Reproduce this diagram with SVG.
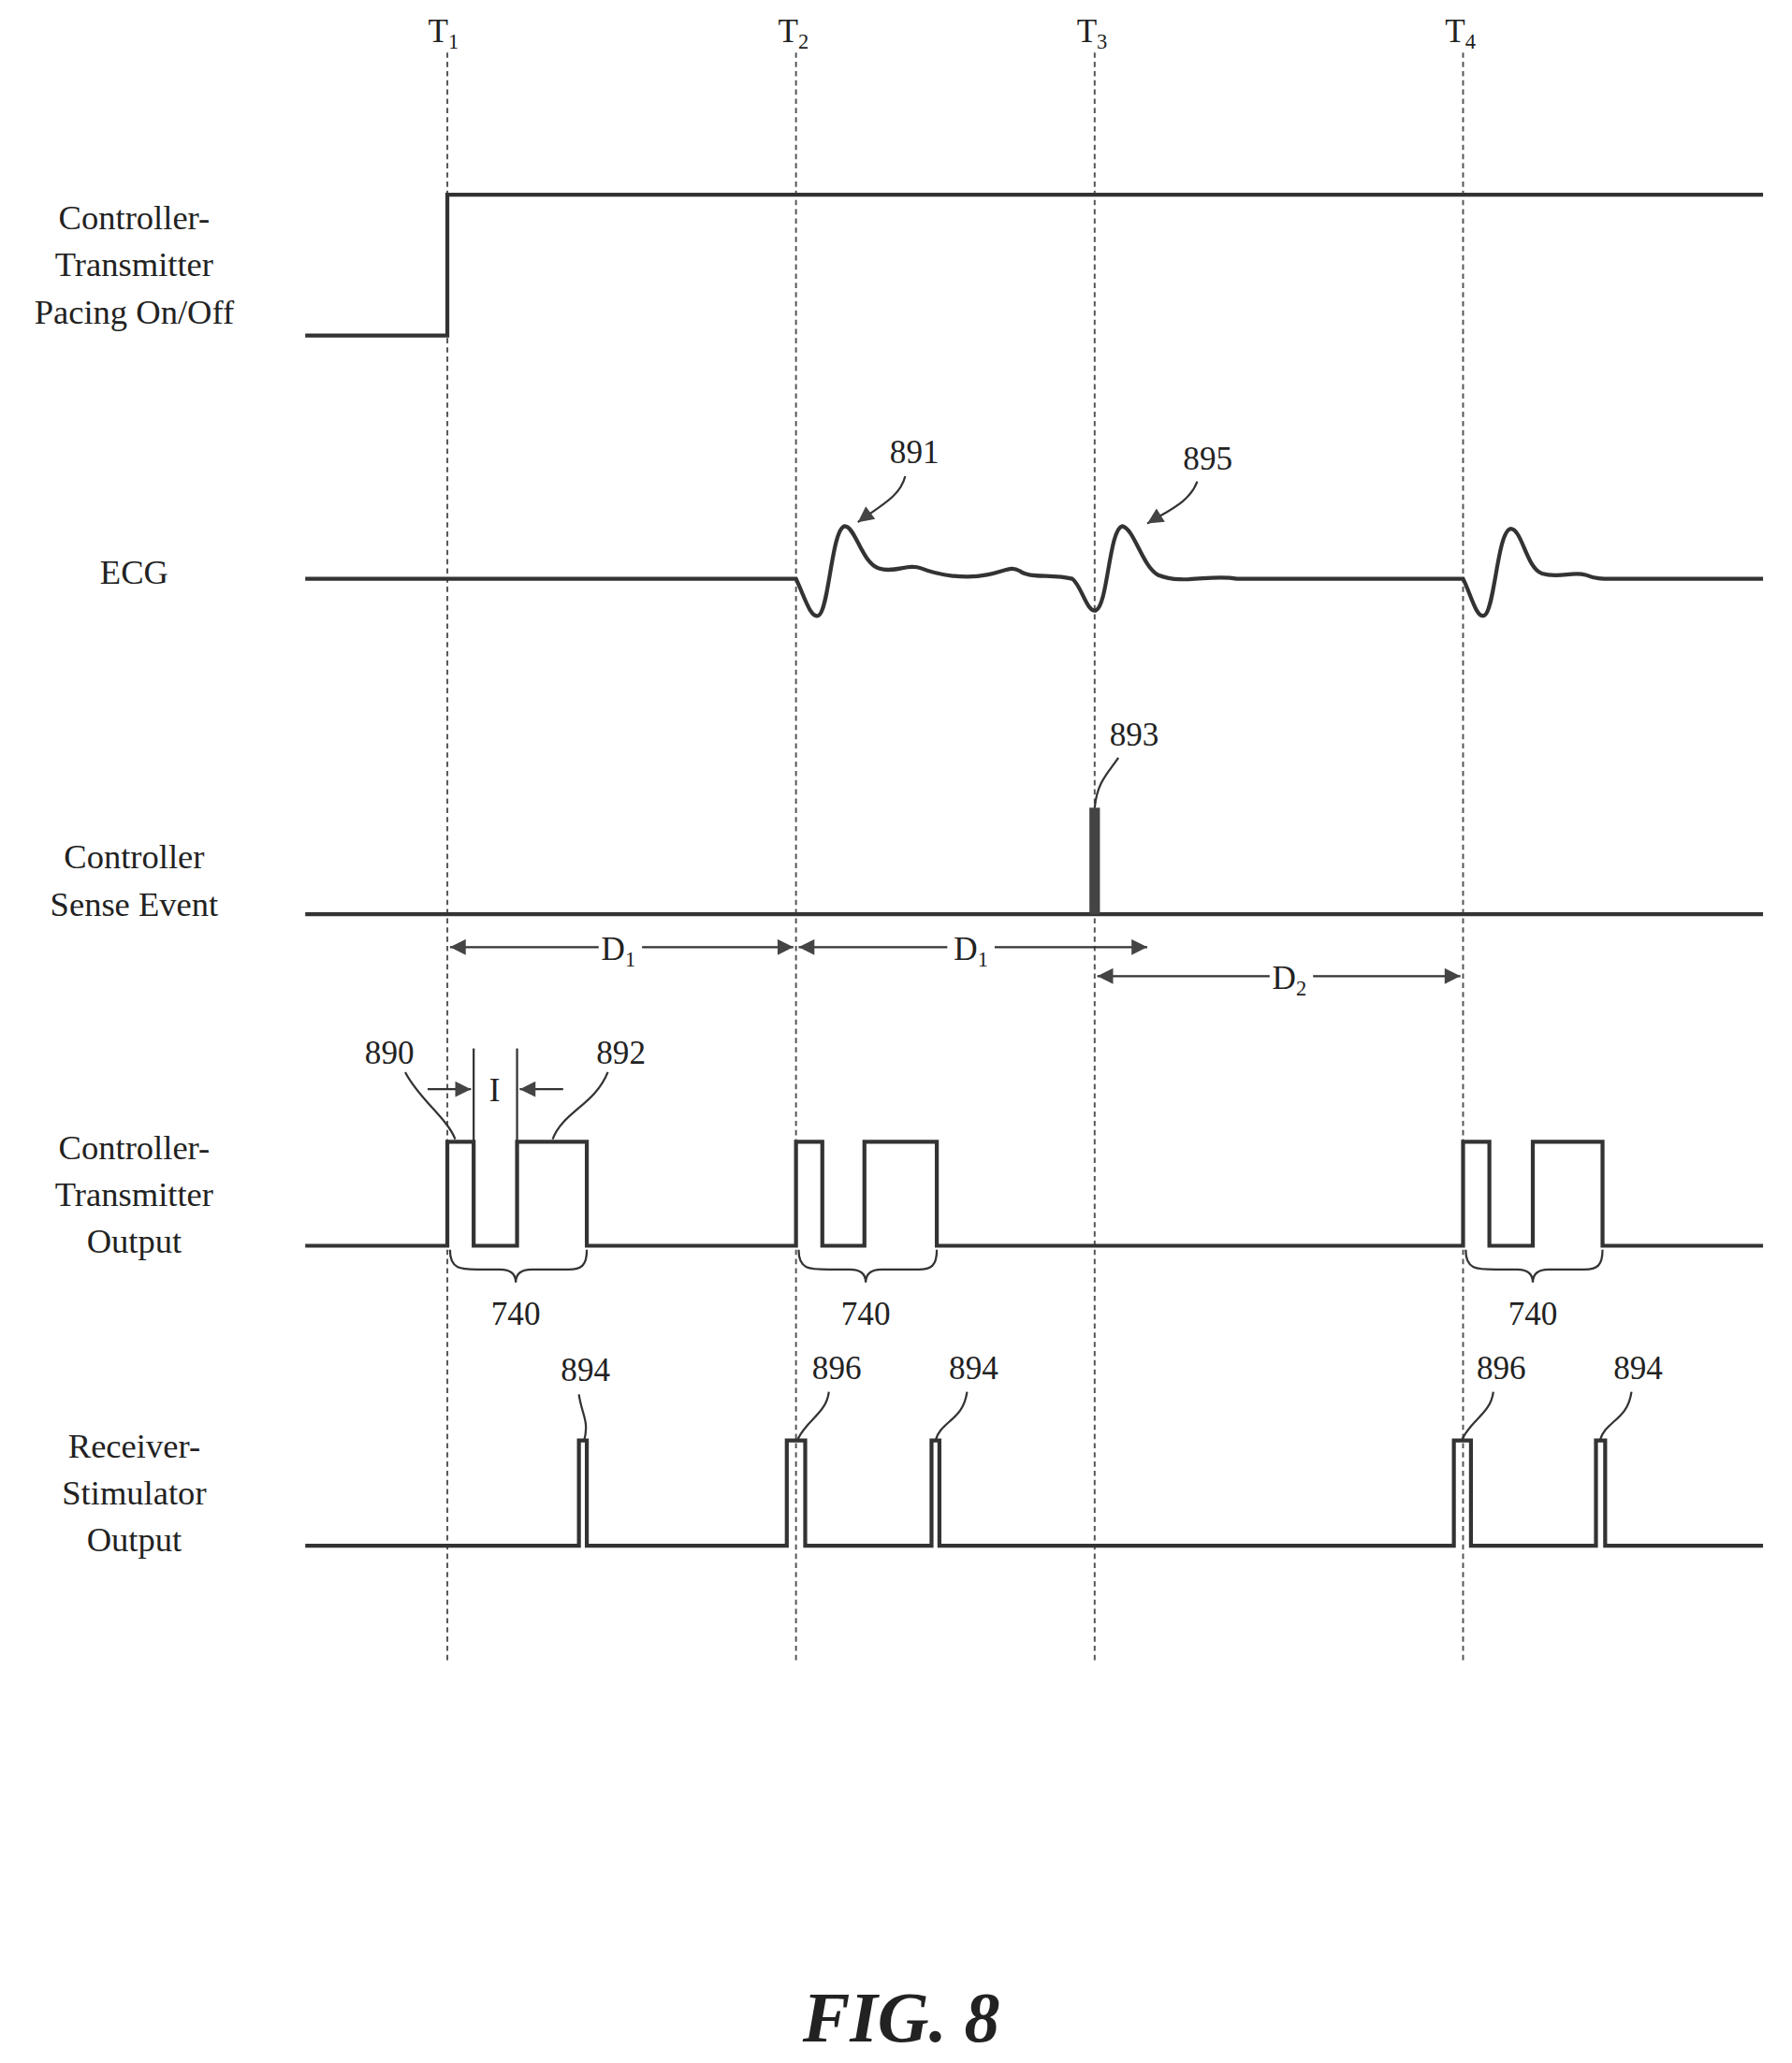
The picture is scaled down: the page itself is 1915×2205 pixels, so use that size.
<svg xmlns="http://www.w3.org/2000/svg" width="1915" height="2205" viewBox="0 0 1915 2205">
<defs>
<style>
.sig{fill:none;stroke:#333;stroke-width:3}
.thin{fill:none;stroke:#333;stroke-width:1.6}
.guide{fill:none;stroke:#555;stroke-width:1.4;stroke-dasharray:4 3}
.lbl{font-family:"Liberation Serif",serif;font-size:26px;fill:#222;text-anchor:middle}
.num{font-family:"Liberation Serif",serif;font-size:25px;fill:#222;text-anchor:middle}
.sub{font-size:16px}
</style>
<marker id="ah" viewBox="0 0 10 10" refX="10" refY="5" markerWidth="14" markerHeight="12" markerUnits="userSpaceOnUse" orient="auto-start-reverse"><path d="M0,0 L10,5 L0,10 z" fill="#444"/></marker>
</defs>
<rect width="1915" height="2205" fill="#fff"/>
<g transform="scale(1.40602)">
<g id="timelines">
<line class="guide" x1="340" y1="40" x2="340" y2="1262"/>
<line class="guide" x1="605" y1="40" x2="605" y2="1262"/>
<line class="guide" x1="832" y1="40" x2="832" y2="1262"/>
<line class="guide" x1="1112" y1="40" x2="1112" y2="1262"/>
<text class="num" x="337" y="32">T<tspan class="sub" dy="5">1</tspan></text>
<text class="num" x="603" y="32">T<tspan class="sub" dy="5">2</tspan></text>
<text class="num" x="830" y="32">T<tspan class="sub" dy="5">3</tspan></text>
<text class="num" x="1110" y="32">T<tspan class="sub" dy="5">4</tspan></text>
</g>
<g id="labels">
<text class="lbl" x="102" y="174">Controller-</text>
<text class="lbl" x="102" y="210">Transmitter</text>
<text class="lbl" x="102" y="246">Pacing On/Off</text>
<text class="lbl" x="102" y="444">ECG</text>
<text class="lbl" x="102" y="660">Controller</text>
<text class="lbl" x="102" y="696">Sense Event</text>
<text class="lbl" x="102" y="881">Controller-</text>
<text class="lbl" x="102" y="917">Transmitter</text>
<text class="lbl" x="102" y="952">Output</text>
<text class="lbl" x="102" y="1108">Receiver-</text>
<text class="lbl" x="102" y="1144">Stimulator</text>
<text class="lbl" x="102" y="1179">Output</text>
</g>
<g id="pacing">
<path class="sig" d="M232,255 H340 V148 H1340"/>
</g>
<g id="ecg">
<path class="sig" d="M232,440 H605 C612,455 616,470 622,468 C630,465 632,402 642,400 C650,400 655,428 668,432 C680,436 690,428 700,432 C715,438 735,440 750,437 C765,434 768,430 775,434 C782,440 800,436 815,440 C822,445 826,466 833,464 C842,460 843,402 853,400 C862,402 868,430 880,437 C900,445 920,436 940,440 H1112 C1118,452 1122,470 1128,468 C1136,465 1138,404 1148,402 C1157,402 1160,432 1172,436 C1185,440 1195,434 1205,437 C1212,440 1218,440 1225,440 H1340"/>
<text class="num" x="695" y="352">891</text>
<path class="thin" d="M688,362 C684,378 668,385 652,397" marker-end="url(#ah)"/>
<text class="num" x="918" y="357">895</text>
<path class="thin" d="M910,366 C904,382 888,388 872,398" marker-end="url(#ah)"/>
</g>
<g id="sense">
<path class="sig" d="M232,695 H1340"/>
<rect x="828" y="614" width="8" height="81" fill="#444"/>
<text class="num" x="862" y="567">893</text>
<path class="thin" d="M850,576 C842,588 834,594 832,614"/>
</g>
<g id="connectors">
<line class="thin" x1="342" y1="720" x2="455" y2="720" marker-start="url(#ah)"/>
<line class="thin" x1="488" y1="720" x2="603" y2="720" marker-end="url(#ah)"/>
<text class="num" x="470" y="730">D<tspan class="sub" dy="5">1</tspan></text>
<line class="thin" x1="607" y1="720" x2="720" y2="720" marker-start="url(#ah)"/>
<line class="thin" x1="756" y1="720" x2="872" y2="720" marker-end="url(#ah)"/>
<text class="num" x="738" y="730">D<tspan class="sub" dy="5">1</tspan></text>
<line class="thin" x1="834" y1="742" x2="965" y2="742" marker-start="url(#ah)"/>
<line class="thin" x1="998" y1="742" x2="1110" y2="742" marker-end="url(#ah)"/>
<text class="num" x="980" y="752">D<tspan class="sub" dy="5">2</tspan></text>
</g>
<g id="ct-output">
<path class="sig" d="M232,947 H340 V868 H360 V947 H393 V868 H446 V947 H605 V868 H625 V947 H657 V868 H712 V947 H1112 V868 H1132 V947 H1165 V868 H1218 V947 H1340"/>
<line class="thin" x1="360" y1="797" x2="360" y2="868"/>
<line class="thin" x1="393" y1="797" x2="393" y2="868"/>
<line class="thin" x1="325" y1="828" x2="358" y2="828" marker-end="url(#ah)"/>
<line class="thin" x1="428" y1="828" x2="395" y2="828" marker-end="url(#ah)"/>
<text class="num" x="376" y="837">I</text>
<text class="num" x="296" y="809">890</text>
<path class="thin" d="M308,815 C318,835 340,850 346,866"/>
<text class="num" x="472" y="809">892</text>
<path class="thin" d="M462,815 C452,840 428,845 420,866"/>
<path class="thin" d="M342,950 C342,965 350,965 365,965 H380 C388,965 392,968 392,975 C392,968 396,965 404,965 H432 C442,965 446,962 446,950"/>
<text class="num" x="392" y="1007">740</text>
<path class="thin" d="M607,950 C607,965 615,965 630,965 H646 C654,965 658,968 658,975 C658,968 662,965 670,965 H698 C708,965 712,962 712,950"/>
<text class="num" x="658" y="1007">740</text>
<path class="thin" d="M1114,950 C1114,965 1122,965 1137,965 H1153 C1161,965 1165,968 1165,975 C1165,968 1169,965 1177,965 H1204 C1214,965 1218,962 1218,950"/>
<text class="num" x="1165" y="1007">740</text>
</g>
<g id="rs-output">
<path class="sig" d="M232,1175 H440 V1095 H446 V1175 H598 V1095 H612 V1175 H708 V1095 H714 V1175 H1105 V1095 H1118 V1175 H1213 V1095 H1220 V1175 H1340"/>
<text class="num" x="445" y="1050">894</text>
<path class="thin" d="M440,1060 C442,1075 448,1080 444,1095"/>
<text class="num" x="636" y="1048">896</text>
<path class="thin" d="M630,1058 C628,1075 612,1080 606,1095"/>
<text class="num" x="740" y="1048">894</text>
<path class="thin" d="M735,1058 C732,1080 715,1080 711,1095"/>
<text class="num" x="1141" y="1048">896</text>
<path class="thin" d="M1135,1058 C1133,1075 1117,1080 1111,1095"/>
<text class="num" x="1245" y="1048">894</text>
<path class="thin" d="M1240,1058 C1237,1080 1220,1080 1216,1095"/>
</g>
<g id="caption">
<text x="685" y="1552" font-family="Liberation Serif,serif" font-size="54" font-weight="bold" font-style="italic" fill="#222" text-anchor="middle">FIG. 8</text>
</g>
</g>
</svg>
